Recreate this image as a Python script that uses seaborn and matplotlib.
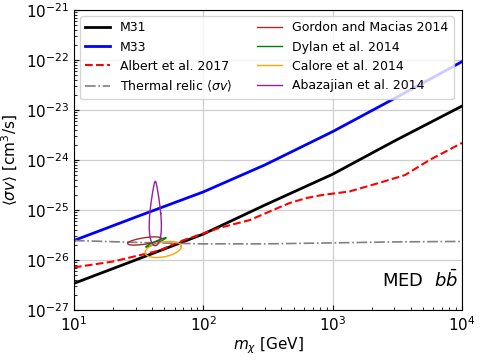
import numpy as np
import pandas as pd
import matplotlib
matplotlib.use("Agg")
import matplotlib.pyplot as plt
import seaborn as sns

# dark matter mass grid [GeV] and limits <sigma v> [cm^3/s]
m31_mass = [10, 30, 100, 300, 1000, 3000, 10000]
m31_sv = [3.4e-27, 1.0e-26, 3.3e-26, 1.26e-25, 5.2e-25, 2.4e-24, 1.2e-23]

m33_mass = [10, 30, 100, 300, 1000, 3000, 10000]
m33_sv = [2.45e-26, 7.2e-26, 2.3e-25, 8.0e-25, 3.7e-24, 1.7e-23, 9.3e-23]

albert_mass = [10, 20, 46, 66, 134, 229, 325, 465, 630, 835, 1350, 2300, 3630, 5600, 10000]
albert_sv = [7.1e-27, 9.3e-27, 1.55e-26, 2.35e-26, 4.4e-26, 6.3e-26, 9.3e-26, 1.38e-25,
             1.74e-25, 2.0e-25, 2.35e-25, 3.5e-25, 5.0e-25, 1.0e-24, 2.2e-24]

relic_mass = [10, 30, 100, 300, 1000, 3000, 10000]
relic_sv = [2.45e-26, 2.25e-26, 2.1e-26, 2.1e-26, 2.2e-26, 2.3e-26, 2.35e-26]

# GC excess contours: centre (log10 m, log10 sv), x half-width, tilt, y half-width
contour_names = ["Gordon and Macias 2014", "Dylan et al. 2014", "Calore et al. 2014", "Abazajian et al. 2014"]
contour_cx = [1.545, 1.633, 1.69, 1.629]
contour_cy = [-25.62, -25.65, -25.79, -25.07]
contour_ax = [0.13, 0.077, 0.14, 0.065]
contour_ay = [0.05, 0.09, 0.06, 0.0]
contour_by = [0.065, 0.025, 0.15, 0.645]
contour_taper = [0.0, 0.0, 0.0, 0.7]
contour_colors = ["brown", "green", "orange", "#9a1f9a"]

plt.figure(figsize=(4.8, 3.6), dpi=100)
ax = plt.gca()

sns.lineplot(x=m31_mass, y=m31_sv, color="black", lw=2, label="M31", ax=ax)
sns.lineplot(x=m33_mass, y=m33_sv, color="blue", lw=2, label="M33", ax=ax)
sns.lineplot(x=albert_mass, y=albert_sv, color="red", lw=1.5, ls="--", label="Albert et al. 2017", ax=ax)
sns.lineplot(x=relic_mass, y=relic_sv, color="gray", lw=1.2, ls="-.", label=r"Thermal relic $\langle\sigma v\rangle$", ax=ax)

t = np.linspace(0, 2 * np.pi, 200)
for name, cx, cy, axx, ayy, byy, tap, col in zip(contour_names, contour_cx, contour_cy, contour_ax,
                                                contour_ay, contour_by, contour_taper, contour_colors):
    shrink = 1 - tap * (1 + np.sin(t)) / 2
    lx = cx + axx * np.cos(t) * shrink
    ly = cy + ayy * np.cos(t) + byy * np.sin(t)
    df = pd.DataFrame({"m": 10 ** lx, "sv": 10 ** ly})
    sns.lineplot(data=df, x="m", y="sv", sort=False, estimator=None, color=col, lw=1, label=name, ax=ax)

ax.set_xscale("log")
ax.set_yscale("log")
ax.set_xlim(10, 1e4)
ax.set_ylim(1e-27, 1e-21)
ax.set_xlabel(r"$m_\chi$ [GeV]", fontsize=11, labelpad=1)
ax.set_ylabel(r"$\langle\sigma v\rangle$ [cm$^3$/s]", fontsize=11)
ax.tick_params(which="both", direction="in", labelsize=11)
ax.grid(True, which="major", color="#cfcfcf", lw=0.9)
ax.text(0.99, 0.1, r"MED  $b\bar{b}$", transform=ax.transAxes, ha="right", va="center", fontsize=13)
ax.legend(loc="upper left", ncol=2, fontsize=9)
plt.subplots_adjust(left=0.154, right=0.9625, top=0.972, bottom=0.139)
plt.savefig("out.png", dpi=100)
